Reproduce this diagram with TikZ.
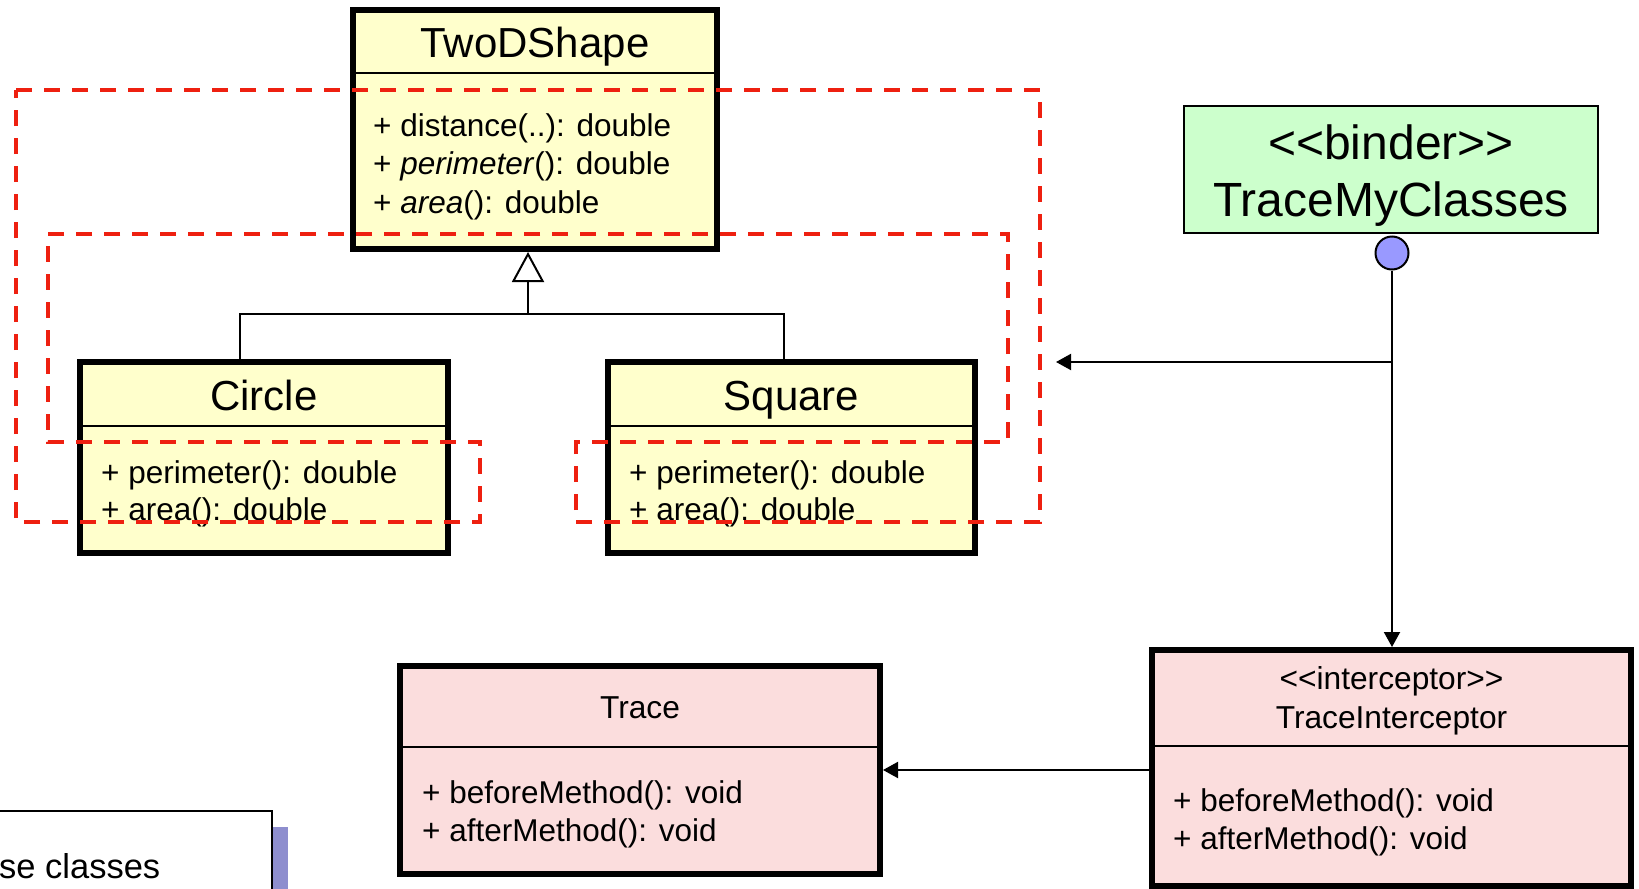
\documentclass[tikz,border=0pt]{standalone}
\usepackage{fontspec}
\setmainfont{Liberation Sans}[Ligatures=TeXOff]
\usetikzlibrary{arrows.meta}

\definecolor{classfill}{RGB}{255,255,204}
\definecolor{binderfill}{RGB}{204,255,204}
\definecolor{aspectfill}{RGB}{251,221,221}
\definecolor{portfill}{RGB}{153,153,255}
\definecolor{cutred}{RGB}{238,32,16}
\definecolor{shadowblue}{RGB}{142,142,206}

\tikzset{
  classbox/.style={draw=black, line width=6pt, inner sep=0pt},
  thinbox/.style={draw=black, line width=2pt, inner sep=0pt},
  rule/.style={draw=black, line width=2pt},
  conn/.style={draw=black, line width=2pt},
  tip/.style={-{Triangle[length=15pt,width=16pt]}},
  inherit/.style={-{Triangle[length=30pt,width=32pt,fill=white]}},
  bigname/.style={font=\fontsize{42}{48}\selectfont, anchor=base, inner sep=0pt},
  smallname/.style={font=\fontsize{31.7}{38}\selectfont, anchor=base, inner sep=0pt},
  member/.style={font=\fontsize{31.5}{38}\selectfont, anchor=base west, inner sep=0pt},
  bindertext/.style={font=\fontsize{48}{56}\selectfont, anchor=base, inner sep=0pt},
  notefont/.style={font=\fontsize{34.5}{42}\selectfont, anchor=base west, inner sep=0pt},
  pointcut/.style={draw=cutred, line width=4pt, dash pattern=on 16pt off 12pt},
}

\begin{document}
\begin{tikzpicture}[x=1pt, y=-1pt]
\useasboundingbox (0,0) rectangle (1639,889);
\clip (0,0) rectangle (1639,889);
\fill[white] (0,0) rectangle (1639,889);

% partial note box at the lower left
\fill[shadowblue] (273,827) rectangle (288,900);
\draw[line width=2pt, fill=white] (-60,811) rectangle (272,960);
\node[notefont] (notetext) at (-1,878) {se classes};

% class hierarchy
\node[classbox, fill=classfill, minimum width=364pt, minimum height=239pt] (twod) at (535,129.5) {};
\draw[rule] (353,73) -- (717,73);
\node[bigname] (twodname) at (535,57) {TwoDShape};
\node[member] (twodm1) at (373,136) {+ distance(..): double};
\node[member] (twodm2) at (373,174) {+ \textit{perimeter}(): double};
\node[member] (twodm3) at (373,213) {+ \textit{area}(): double};

\node[classbox, fill=classfill, minimum width=368pt, minimum height=191pt] (circle) at (264,457.5) {};
\draw[rule] (80,426) -- (448,426);
\node[bigname] (circlename) at (264,410) {Circle};
\node[member] (circlem1) at (101,483) {+ perimeter(): double};
\node[member] (circlem2) at (101,520) {+ area(): double};

\node[classbox, fill=classfill, minimum width=367pt, minimum height=191pt] (square) at (791.5,457.5) {};
\draw[rule] (608,426) -- (975,426);
\node[bigname] (squarename) at (791.5,410) {Square};
\node[member] (squarem1) at (629,483) {+ perimeter(): double};
\node[member] (squarem2) at (629,520) {+ area(): double};

% generalization
\coordinate (join) at (528,314);
\draw[conn] ([xshift=-24pt]circle.north) |- (join) -| ([xshift=-7.5pt]square.north);
\draw[conn, inherit] (join) -- (join |- twod.south);

% binder
\node[thinbox, fill=binderfill, minimum width=414pt, minimum height=127pt] (binder) at (1391,169.5) {};
\node[bindertext] (bindertop) at (1391,159) {<<binder>>};
\node[bindertext] (bindername) at (1391,216) {TraceMyClasses};
\node[circle, draw=black, line width=2pt, fill=portfill, minimum size=33pt, inner sep=0pt] (port) at (1392,253) {};

% aspect classes
\node[classbox, fill=aspectfill, minimum width=480pt, minimum height=208pt] (trace) at (640,770) {};
\draw[rule] (400,747) -- (880,747);
\node[smallname] (tracename) at (640,718) {Trace};
\node[member] (tracem1) at (422,803) {+ beforeMethod(): void};
\node[member] (tracem2) at (422,841) {+ afterMethod(): void};

\node[classbox, fill=aspectfill, minimum width=479pt, minimum height=236pt] (interceptor) at (1391.5,768) {};
\draw[rule] (1152,746) -- (1631,746);
\node[smallname] (interceptortop) at (1391.5,689) {<<interceptor>>};
\node[smallname] (interceptorname) at (1391.5,728) {TraceInterceptor};
\node[member] (interceptorm1) at (1173,811) {+ beforeMethod(): void};
\node[member] (interceptorm2) at (1173,849) {+ afterMethod(): void};

% connectors from the binder
\coordinate (fork) at (1392,362);
\coordinate (cutedge) at (1056,362);
\draw[conn, tip] (port.south) -- (port.south |- interceptor.north);
\draw[conn, tip] (fork) -- (cutedge);
\draw[conn, tip] (interceptor.west |- trace.east) -- (trace.east);

% pointcut outline over the method compartments
\draw[pointcut] (16,90) -- (1040,90) -- (1040,522) -- (576,522) -- (576,442)
  -- (1008,442) -- (1008,234) -- (48,234) -- (48,442) -- (480,442)
  -- (480,522) -- (16,522) -- cycle;
\end{tikzpicture}
\end{document}
